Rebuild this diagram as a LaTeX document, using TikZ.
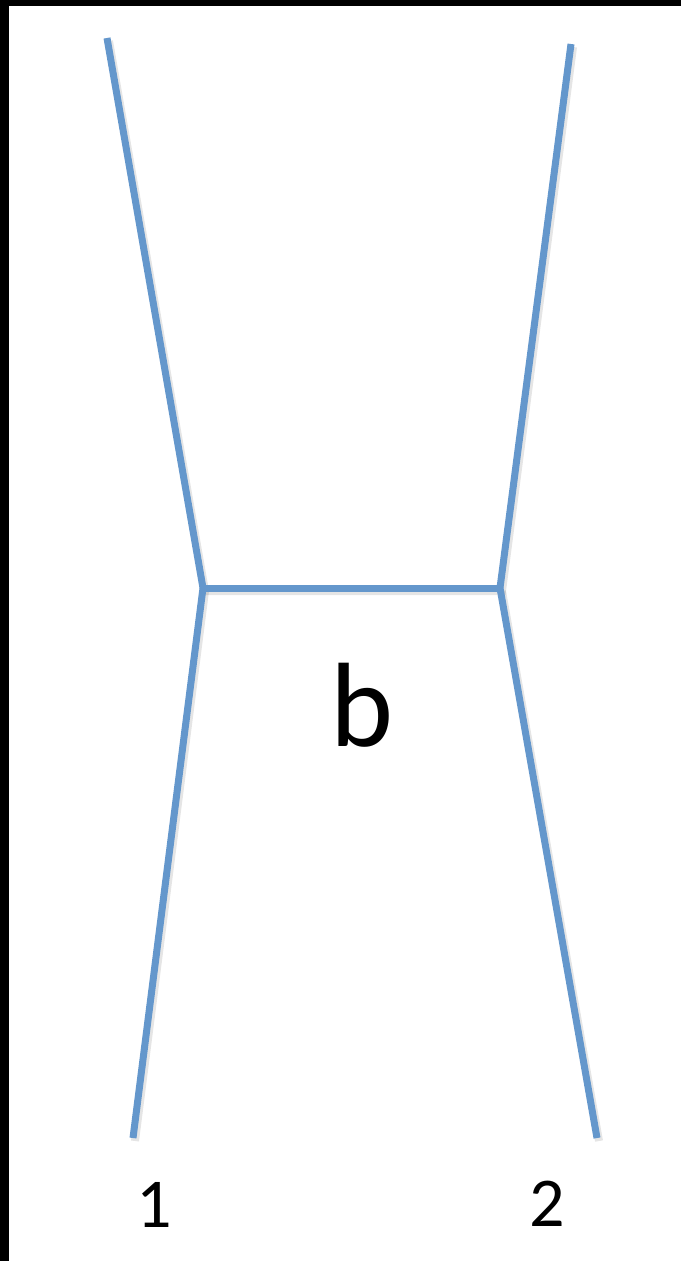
\documentclass[tikz,border=0pt]{standalone}
\usepackage{fontspec}
\setmainfont{Carlito}
\definecolor{lineblue}{RGB}{100,151,204}
\begin{document}
\begin{tikzpicture}[x=1pt,y=-1pt,
  leg/.style={draw=lineblue,line width=7pt},
  shadowleg/.style={draw=black,opacity=0.10,line width=8pt},
  lbl/.style={inner sep=0pt,text=black}]
\useasboundingbox (0,0) rectangle (681,1261);
\fill[white] (0,0) rectangle (681,1261);
\fill[black] (0,0) rectangle (9,1261);
\fill[black] (0,0) rectangle (681,6);
\coordinate (tl) at (107,38);
\coordinate (tr) at (571,44);
\coordinate (jl) at (203,588);
\coordinate (jr) at (500,588);
\coordinate (bl) at (133,1138);
\coordinate (br) at (597,1138);
\begin{scope}[shift={(2,3)}]
\draw[shadowleg] (107,38) -- (203,588) -- (500,588) -- (571,44);
\draw[shadowleg] (133,1138) -- (203,588);
\draw[shadowleg] (597,1138) -- (500,588);
\end{scope}
\draw[leg] (tl) -- (jl);
\draw[leg] (tr) -- (jr);
\draw[leg] (jl) -- (jr);
\draw[leg] (jl) -- (bl);
\draw[leg] (jr) -- (br);
\node[lbl,font=\fontsize{120}{120}\selectfont,anchor=base] (b) at (362,746) {b};
\node[lbl,font=\fontsize{70}{70}\selectfont,anchor=base] (one) at (154,1227) {1};
\node[lbl,font=\fontsize{70}{70}\selectfont,anchor=base] (two) at (547,1226) {2};
\end{tikzpicture}
\end{document}
